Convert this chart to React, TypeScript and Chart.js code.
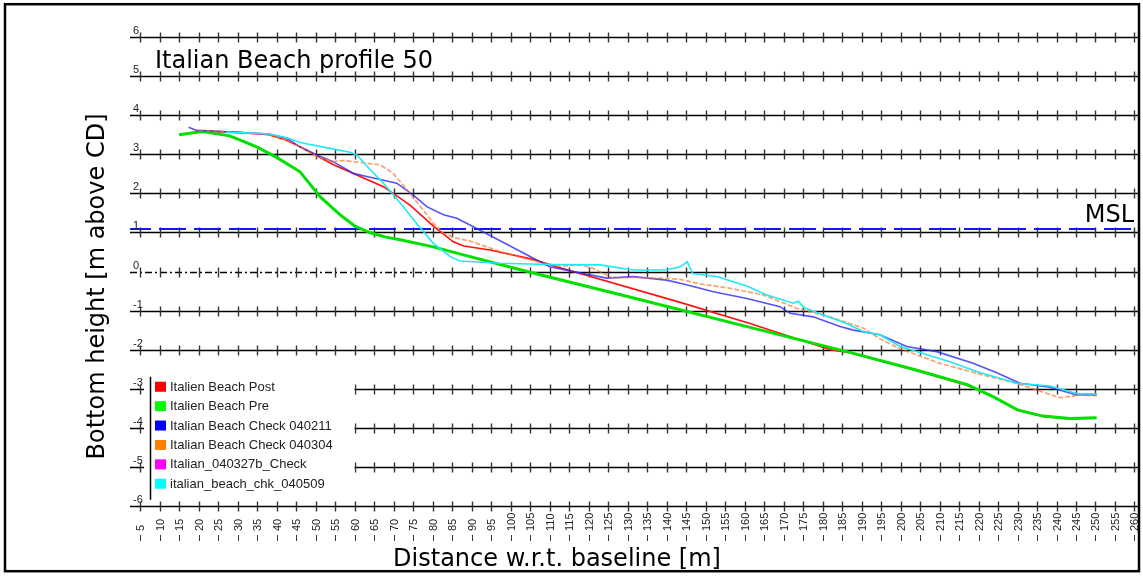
import React, { useEffect, useRef } from "react";
import { Chart, registerables } from "chart.js";

Chart.register(...registerables);

// ---------- text ----------
const chartTitle = "Italian Beach profile 50";
const xAxisTitle = "Distance w.r.t. baseline [m]";
const yAxisTitle = "Bottom height [m above CD]";
const mslLabel = "MSL";
const mslLevel = 1.1;
const zeroDashEnd = 80;

// ---------- ticks ----------
const xTickValues = [
  5, 10, 15, 20, 25, 30, 35, 40, 45, 50, 55, 60, 65, 70, 75, 80, 85, 90, 95, 100,
  105, 110, 115, 120, 125, 130, 135, 140, 145, 150, 155, 160, 165, 170, 175, 180,
  185, 190, 195, 200, 205, 210, 215, 220, 225, 230, 235, 240, 245, 250, 255, 260,
];
const yTickValues = [6, 5, 4, 3, 2, 1, 0, -1, -2, -3, -4, -5, -6];

// ---------- legend ----------
const seriesNames = [
  "Italien Beach Post",
  "Italien Beach Pre",
  "Italian Beach Check 040211",
  "Italian Beach Check 040304",
  "Italian_040327b_Check",
  "italian_beach_chk_040509",
];
const legendColors = ["#ff0000", "#00ff00", "#0000ff", "#ff8000", "#ff00ff", "#00ffff"];

// ---------- series ----------
const postDist = [20, 30, 38, 42, 46, 54.6, 67.4, 74.2, 80.2, 85.3, 88, 94.7, 105.8, 111.8, 143.5, 161.4, 182, 187, 204, 217, 224, 230, 236.5, 243.5, 250];
const postHeight = [3.6, 3.56, 3.5, 3.38, 3.19, 2.73, 2.17, 1.7, 1.16, 0.76, 0.65, 0.55, 0.31, 0.12, -0.79, -1.33, -2.0, -2.08, -2.53, -2.91, -3.21, -3.55, -3.71, -3.77, -3.75];

const preDist = [15, 21, 28, 34.9, 40, 46, 51.2, 56.3, 60.1, 64, 68, 71.7, 80.2, 89.6, 105, 130, 161.4, 187, 204, 217.3, 223.7, 230, 236.5, 243.5, 250.3];
const preHeight = [3.5, 3.58, 3.47, 3.19, 2.92, 2.55, 1.91, 1.45, 1.16, 0.99, 0.88, 0.81, 0.63, 0.38, -0.02, -0.64, -1.43, -2.07, -2.52, -2.9, -3.2, -3.54, -3.7, -3.76, -3.74];

const check040211Dist = [17.4, 19.5, 30, 38, 42.6, 46, 50.3, 54.5, 59.7, 63.1, 70.8, 75, 78.5, 82.8, 86.2, 89.6, 110, 124.6, 131.4, 140, 143.5, 148.6, 152, 160.6, 169.1, 171.7, 177.6, 184.5, 187.9, 194.7, 201.6, 209.3, 218.6, 224.7, 230.6, 238.3, 245.2, 250.3];
const check040211Height = [3.69, 3.61, 3.56, 3.52, 3.41, 3.19, 2.98, 2.81, 2.51, 2.43, 2.26, 1.96, 1.66, 1.45, 1.36, 1.19, 0.12, -0.17, -0.13, -0.22, -0.3, -0.43, -0.52, -0.69, -0.9, -1.07, -1.16, -1.41, -1.5, -1.62, -1.92, -2.05, -2.35, -2.59, -2.86, -2.96, -3.16, -3.16];

const check040304Dist = [20, 30, 38, 42, 46, 50.3, 54.6, 57.1, 63.1, 66.5, 69.9, 74.2, 77.6, 80.2, 82.8, 86.2, 89.6, 97.3, 108.3, 113, 118, 121.2, 126.3, 131.4, 138.3, 143.5, 148.6, 156.3, 164.8, 173.3, 181.9, 190.5, 194.7, 199.9, 210.1, 221.2, 229.8, 234.9, 240.9, 246, 250.3];
const check040304Height = [3.6, 3.56, 3.51, 3.38, 3.19, 2.94, 2.81, 2.84, 2.77, 2.73, 2.51, 2.0, 1.57, 1.23, 0.98, 0.85, 0.78, 0.51, 0.21, 0.14, 0.17, 0.08, -0.17, -0.15, -0.17, -0.2, -0.32, -0.43, -0.6, -0.94, -1.16, -1.45, -1.72, -1.98, -2.35, -2.65, -2.86, -3.03, -3.23, -3.16, -3.18];

const check040327bDist: number[] = [];
const check040327bHeight: number[] = [];

const check040509Dist = [27, 34, 38, 42.6, 46, 47.7, 53.7, 58.8, 60.6, 63.1, 67.4, 71.7, 75.9, 80.2, 84.5, 87, 97.3, 110, 122.9, 131.4, 140, 143.5, 145.3, 146.7, 152.8, 160.6, 165.7, 172.5, 173.8, 175.2, 180.2, 186.2, 190.5, 194.7, 199.9, 212.7, 219.5, 229.8, 238.3, 245.2, 250.3];
const check040509Height = [3.56, 3.54, 3.52, 3.42, 3.3, 3.27, 3.15, 3.05, 2.98, 2.7, 2.26, 1.75, 1.23, 0.72, 0.38, 0.27, 0.21, 0.18, 0.17, 0.04, 0.04, 0.12, 0.25, -0.05, -0.13, -0.37, -0.6, -0.81, -0.76, -0.92, -1.11, -1.33, -1.54, -1.62, -1.92, -2.31, -2.56, -2.86, -2.93, -3.12, -3.13];

const toPoints = (xs: number[], ys: number[]) => xs.map((v, i) => ({ x: v, y: ys[i] }));

const SANS = '"DejaVu Sans", Verdana, sans-serif';
const ARIAL = '"Liberation Sans", Arial, sans-serif';

const decorPlugin = {
  id: "decor",
  beforeDatasetsDraw(chart: any) {
    const { ctx, chartArea: a, scales } = chart;
    const xs = scales.x;
    const ys = scales.y;
    const seg = (x1: number, y1: number, x2: number, y2: number) => {
      ctx.beginPath();
      ctx.moveTo(x1, y1);
      ctx.lineTo(x2, y2);
      ctx.stroke();
    };
    ctx.save();
    // horizontal lines with cross ticks
    for (const v of yTickValues) {
      const py = Math.round(ys.getPixelForValue(v)) + 0.5;
      ctx.strokeStyle = "#000";
      ctx.lineWidth = 1.3;
      if (v === 0) {
        const split = Math.round(xs.getPixelForValue(zeroDashEnd));
        ctx.setLineDash([7, 3, 2, 3]);
        seg(a.left, py, split, py);
        ctx.setLineDash([]);
        seg(split, py, a.right, py);
      } else {
        seg(a.left, py, a.right, py);
      }
      ctx.strokeStyle = "#333";
      ctx.lineWidth = 1.4;
      for (const t of xTickValues) {
        const px = Math.round(xs.getPixelForValue(t)) + 0.5;
        seg(px, py - 5, px, py + 5);
      }
    }
    // MSL line
    const my = Math.round(ys.getPixelForValue(mslLevel));
    ctx.strokeStyle = "#1414ff";
    ctx.lineWidth = 2;
    ctx.setLineDash([27, 8]);
    ctx.lineDashOffset = 6;
    seg(a.left, my, a.right, my);
    ctx.setLineDash([]);
    ctx.lineDashOffset = 0;

    // legend box (covers grid)
    const top3 = ys.getPixelForValue(-3);
    const lx0 = a.left + 14;
    const lx1 = Math.round(xs.getPixelForValue(60)) - 0.5;
    ctx.fillStyle = "#fff";
    ctx.fillRect(lx0, top3 - 12, lx1 - lx0, 123);
    ctx.strokeStyle = "#000";
    ctx.lineWidth = 1.5;
    seg(a.left + 20.5, top3 - 12, a.left + 20.5, top3 + 111);
    ctx.font = `13px ${ARIAL}`;
    ctx.textBaseline = "middle";
    ctx.textAlign = "left";
    seriesNames.forEach((name, i) => {
      const cy = top3 - 2 + i * 19.4;
      ctx.fillStyle = legendColors[i];
      ctx.fillRect(a.left + 25, cy - 5, 11, 10);
      ctx.fillStyle = "#222";
      ctx.fillText(name, a.left + 40, cy + 0.5);
    });
    ctx.restore();
  },
  afterDraw(chart: any) {
    const { ctx, chartArea: a, scales } = chart;
    const xs = scales.x;
    const ys = scales.y;
    ctx.save();
    // y tick labels
    ctx.font = `11px ${ARIAL}`;
    ctx.fillStyle = "#222";
    ctx.textAlign = "left";
    ctx.textBaseline = "alphabetic";
    for (const v of yTickValues) {
      const py = ys.getPixelForValue(v);
      ctx.fillText(String(v), a.left + 3, py - 3);
    }
    // x tick labels (rotated) with small marks
    const base = a.bottom + 25;
    ctx.strokeStyle = "#333";
    ctx.lineWidth = 1;
    for (const t of xTickValues) {
      const px = Math.round(xs.getPixelForValue(t));
      ctx.beginPath();
      ctx.moveTo(px + 0.5, base + 4);
      ctx.lineTo(px + 0.5, base + 10);
      ctx.stroke();
      ctx.save();
      ctx.translate(px + 0.5, base);
      ctx.rotate(-Math.PI / 2);
      ctx.textAlign = "left";
      ctx.textBaseline = "middle";
      ctx.fillText(String(t), 0, 0.5);
      ctx.restore();
    }
    // titles
    ctx.fillStyle = "#000";
    ctx.font = `24px ${SANS}`;
    ctx.textAlign = "left";
    ctx.textBaseline = "alphabetic";
    ctx.fillText(chartTitle, a.left + 25, a.top + 31);
    ctx.textAlign = "right";
    ctx.fillText(mslLabel, a.right - 4, ys.getPixelForValue(mslLevel) - 7);
    ctx.textAlign = "center";
    ctx.fillText(xAxisTitle, 557, a.bottom + 60);
    ctx.save();
    ctx.translate(104, (a.top + a.bottom) / 2 + 15);
    ctx.rotate(-Math.PI / 2);
    ctx.fillText(yAxisTitle, 0, 0);
    ctx.restore();
    // outer frame
    ctx.strokeStyle = "#000";
    ctx.lineWidth = 2.5;
    ctx.strokeRect(5, 4.2, 1134, 567);
    ctx.restore();
  },
};

export default function App() {
  const canvasRef = useRef<HTMLCanvasElement | null>(null);

  useEffect(() => {
    const canvas = canvasRef.current;
    if (!canvas) return;
    const chart = new Chart(canvas, {
      type: "line",
      data: {
        datasets: [
          {
            label: seriesNames[0],
            data: toPoints(postDist, postHeight),
            borderColor: "#ff1010",
            borderWidth: 1.6,
            order: 6,
          },
          {
            label: seriesNames[1],
            data: toPoints(preDist, preHeight),
            borderColor: "#00e000",
            borderWidth: 3,
            order: 5,
          },
          {
            label: seriesNames[2],
            data: toPoints(check040211Dist, check040211Height),
            borderColor: "rgba(40,40,245,0.8)",
            borderWidth: 1.6,
            order: 4,
          },
          {
            label: seriesNames[3],
            data: toPoints(check040304Dist, check040304Height),
            borderColor: "rgba(250,120,50,0.7)",
            borderWidth: 1.7,
            borderDash: [5, 2],
            order: 3,
          },
          {
            label: seriesNames[4],
            data: toPoints(check040327bDist, check040327bHeight),
            borderColor: "#ff00ff",
            borderWidth: 1.5,
            order: 2,
          },
          {
            label: seriesNames[5],
            data: toPoints(check040509Dist, check040509Height),
            borderColor: "#20e8f8",
            borderWidth: 1.6,
            order: 1,
          },
        ],
      },
      options: {
        animation: false,
        responsive: false,
        maintainAspectRatio: false,
        layout: { padding: { left: 130, top: 37, right: 5, bottom: 70 } },
        elements: { point: { radius: 0 }, line: { tension: 0, fill: false } },
        plugins: {
          legend: { display: false },
          tooltip: { enabled: false },
          title: { display: false },
        },
        scales: {
          x: { type: "linear", min: 2.4, max: 260.9, display: false },
          y: { type: "linear", min: -6, max: 6, display: false },
        },
      },
      plugins: [decorPlugin],
    });
    return () => chart.destroy();
  }, []);

  return (
    <div style={{ position: "fixed", left: 0, top: 0, width: 1143, height: 576, background: "#fff" }}>
      <canvas ref={canvasRef} width={1143} height={576} style={{ display: "block" }} />
    </div>
  );
}
